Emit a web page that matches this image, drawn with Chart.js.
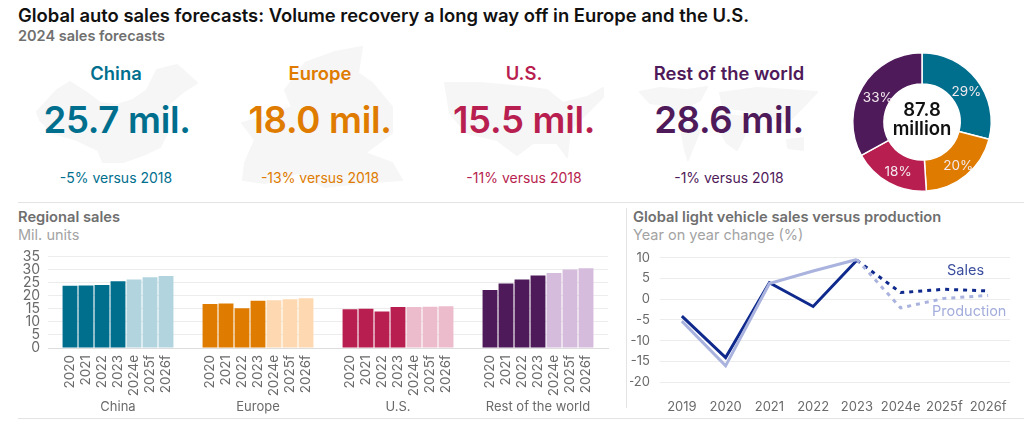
<!DOCTYPE html>
<html>
<head>
<meta charset="utf-8">
<script src="https://cdn.jsdelivr.net/npm/chart.js@4"></script>
<style>
  html, body { margin: 0; background: #fff; }
  body { width: 1024px; height: 428px; position: relative; overflow: hidden; font-family: Inter, sans-serif; }
  .t { position: absolute; white-space: nowrap; }
  .c { transform: translateX(-50%); }
  .rule { position: absolute; height: 1px; background: #e3e3e3; }
  canvas { position: absolute; }
  svg { position: absolute; left: 0; top: 0; }
  .big { font-size: 36.6px; font-weight: 600; top: 98px; letter-spacing: -0.3px; }
  .name { font-size: 18.4px; font-weight: 600; top: 62px; }
  .sub { font-size: 14px; top: 169px; }
  .head { font-size: 14.7px; font-weight: 600; color: #6f6f6f; top: 208px; }
  .unit { font-size: 14.5px; color: #a3a3a3; top: 226px; }
</style>
</head>
<body>
<!-- faint region silhouettes behind the headline numbers -->
<svg width="1024" height="428">
  <g fill="#f6f6f6" stroke="#f6f6f6" stroke-width="2" stroke-linejoin="round">
    <path d="M37 112 L57 90 L70 82 L87 93 L100 103 L117 105 L133 100 L147 90 L157 70 L177 65 L197 83 L183 92 L170 103 L163 117 L167 133 L160 147 L143 155 L123 162 L103 162 L98 150 L77 140 L53 133 L40 120 Z"/>
    <path d="M242 123 L255 140 L245 163 L243 180 L265 183 L298 173 L325 187 L358 183 L402 180 L392 163 L365 153 L392 133 L392 107 L372 83 L358 73 L362 47 L335 52 L305 63 L285 90 L292 107 L265 117 Z"/>
    <path d="M445 83 L480 83 L523 87 L547 90 L563 103 L587 97 L603 88 L603 97 L587 113 L570 130 L567 157 L557 143 L533 143 L517 155 L497 140 L467 133 L450 113 Z"/>
    <path d="M640 92 L660 88 L687 90 L707 87 L700 100 L687 107 L677 120 L665 105 L650 103 Z"/>
    <path d="M680 123 L700 130 L693 147 L688 160 L685 150 Z"/>
    <path d="M720 93 L757 88 L817 92 L803 107 L787 123 L770 117 L743 110 L723 107 Z"/>
    <path d="M717 113 L743 117 L747 130 L737 150 L727 143 L718 127 Z"/>
    <path d="M787 140 L803 138 L803 150 L788 148 Z"/>
  </g>
</svg>

<div class="t" style="left:18px;top:4px;font-size:18.4px;font-weight:600;color:#111">Global auto sales forecasts: Volume recovery a long way off in Europe and the U.S.</div>
<div class="t" style="left:18px;top:27px;font-size:14.5px;font-weight:600;color:#6f6f6f">2024 sales forecasts</div>

<div class="t c name" style="left:116px;color:#006f8e">China</div>
<div class="t c big" style="left:117px;color:#006f8e">25.7 mil.</div>
<div class="t c sub" style="left:116px;color:#006f8e">-5% versus 2018</div>
<div class="t c name" style="left:320px;color:#df7c00">Europe</div>
<div class="t c big" style="left:320px;color:#df7c00">18.0 mil.</div>
<div class="t c sub" style="left:320px;color:#df7c00">-13% versus 2018</div>
<div class="t c name" style="left:524px;color:#b81f50">U.S.</div>
<div class="t c big" style="left:524px;color:#b81f50">15.5 mil.</div>
<div class="t c sub" style="left:524px;color:#b81f50">-11% versus 2018</div>
<div class="t c name" style="left:729px;color:#4f1a5a">Rest of the world</div>
<div class="t c big" style="left:729px;color:#4f1a5a">28.6 mil.</div>
<div class="t c sub" style="left:729px;color:#4f1a5a">-1% versus 2018</div>

<div class="rule" style="left:18px;width:1006px;top:202px"></div>
<div class="rule" style="left:18px;width:1006px;top:418px"></div>
<div style="position:absolute;left:626px;top:208px;width:1px;height:200px;background:#e3e3e3"></div>

<div class="t head" style="left:18px">Regional sales</div>
<div class="t unit" style="left:18px">Mil. units</div>
<div class="t head" style="left:633px">Global light vehicle sales versus production</div>
<div class="t unit" style="left:633px">Year on year change (%)</div>

<canvas id="donut" style="left:842px;top:42px;width:160px;height:160px"></canvas>
<canvas id="bars" style="left:0;top:240px;width:620px;height:180px"></canvas>
<canvas id="lines" style="left:630px;top:240px;width:394px;height:180px"></canvas>

<div class="t" style="left:947px;top:261px;font-size:14.5px;color:#3c4f9e">Sales</div>
<div class="t" style="left:932px;top:302px;font-size:14.5px;color:#a3addb">Production</div>

<script>
const FONT = "Inter, sans-serif";

const regions = ["China", "Europe", "U.S.", "Rest of the world"];
const years = ["2020", "2021", "2022", "2023", "2024e", "2025f", "2026f"];
const china = [23.8, 23.9, 24.1, 25.5, 26.2, 27.0, 27.5];
const europe = [16.8, 17.0, 15.2, 18.1, 18.2, 18.6, 19.0];
const us = [14.8, 15.0, 13.9, 15.7, 15.7, 15.8, 16.0];
const rest = [22.2, 24.6, 26.2, 27.7, 28.7, 30.0, 30.5];
const darkColors = ["#006f8e", "#df7c00", "#b81f50", "#4f1a5a"];
const lightColors = ["#b2d4df", "#fdd8b0", "#edbccc", "#d5bcdc"];

const lineYears = ["2019", "2020", "2021", "2022", "2023", "2024e", "2025f", "2026f"];
const sales = [-4.1, -14.1, 4.0, -1.75, 9.4, 1.6, 2.4, 2.0];
const production = [-5.3, -16.1, 3.8, 6.8, 9.6, -2.1, 0.2, 0.9];

const shareLabels = ["China", "Europe", "U.S.", "Rest of the world"];
const shares = [29, 20, 18, 33];
const totalLines = ["87.8", "million"];

// one dataset per year, so bars group under the region ticks
const rows = [china, europe, us, rest];
const yearSets = years.map((y, i) => ({
    label: y,
    data: rows.map(r => r[i]),
    backgroundColor: i < 4 ? darkColors : lightColors,
    categoryPercentage: 0.8,
    barPercentage: 0.93
}));

// keep the plot area where it is, whatever the tick labels measure
const pinX = height => s => {
    s.height = height;
    s.paddingLeft = 0;
    s.paddingRight = 0;
};

const yearLabels = {
    id: "yearLabels",
    afterDatasetsDraw(chart) {
        const c = chart.ctx;
        const top = chart.scales.y.bottom + 7;
        c.save();
        c.font = "13.5px " + FONT;
        c.fillStyle = "#6a6a6a";
        c.textAlign = "right";
        c.textBaseline = "middle";
        chart.data.datasets.forEach((ds, i) => {
            chart.getDatasetMeta(i).data.forEach(bar => {
                c.save();
                c.translate(bar.x, top);
                c.rotate(-Math.PI / 2);
                c.fillText(ds.label, 0, 0);
                c.restore();
            });
        });
        c.restore();
    }
};

new Chart(document.getElementById("bars"), {
    type: "bar",
    data: { labels: regions, datasets: yearSets },
    plugins: [yearLabels],
    options: {
        responsive: false,
        animation: false,
        layout: { padding: { left: 0, right: 12, top: 16, bottom: 0 } },
        plugins: { legend: { display: false }, tooltip: { enabled: false } },
        scales: {
            x: {
                afterFit: pinX(72),
                grid: { display: false },
                border: { color: "#dddddd" },
                ticks: { color: "#6a6a6a", font: { family: FONT, size: 13 }, padding: 43, maxRotation: 0 }
            },
            y: {
                min: 0,
                max: 35,
                afterFit: s => { s.width = 48; },
                grid: { color: "#ececec", drawTicks: false },
                border: { display: false },
                ticks: { stepSize: 5, autoSkip: false, color: "#6a6a6a", font: { family: FONT, size: 14 }, padding: 8 }
            }
        }
    }
});

const forecastDash = dash => ({
    borderDash: ctx => ctx.p0DataIndex >= 4 ? dash : undefined
});

new Chart(document.getElementById("lines"), {
    type: "line",
    data: {
        labels: lineYears,
        datasets: [
            { label: "Production", data: production, borderColor: "#a9b3de", borderWidth: 3, pointRadius: 0, tension: 0, segment: forecastDash([4, 5]) },
            { label: "Sales", data: sales, borderColor: "#0f2a8c", borderWidth: 3, pointRadius: 0, tension: 0, segment: forecastDash([4, 5]) }
        ]
    },
    options: {
        responsive: false,
        animation: false,
        layout: { padding: { left: 0, right: 14, top: 16, bottom: 0 } },
        plugins: { legend: { display: false }, tooltip: { enabled: false } },
        scales: {
            x: {
                offset: true,
                afterFit: pinX(38),
                grid: { display: false },
                border: { display: false },
                ticks: { color: "#6a6a6a", font: { family: FONT, size: 13 }, padding: 9, maxRotation: 0, autoSkip: false }
            },
            y: {
                min: -20,
                max: 10,
                afterFit: s => { s.width = 30; },
                grid: { color: "#ececec", drawTicks: false },
                border: { display: false },
                ticks: { stepSize: 5, autoSkip: false, color: "#6a6a6a", font: { family: FONT, size: 13 }, padding: 10 }
            }
        }
    }
});

const donutText = {
    id: "donutText",
    afterDatasetsDraw(chart) {
        const c = chart.ctx;
        const arcs = chart.getDatasetMeta(0).data;
        c.save();
        c.textAlign = "center";
        c.textBaseline = "middle";
        c.font = "13.5px " + FONT;
        c.fillStyle = "#f3e9ee";
        arcs.forEach((arc, i) => {
            const p = arc.tooltipPosition();
            c.fillText(shares[i] + "%", p.x + 2, p.y + 3);
        });
        c.fillStyle = "#111";
        c.font = "600 18.5px " + FONT;
        c.fillText(totalLines[0], arcs[0].x, arcs[0].y - 12);
        c.fillText(totalLines[1], arcs[0].x, arcs[0].y + 7);
        c.restore();
    }
};

new Chart(document.getElementById("donut"), {
    type: "doughnut",
    data: {
        labels: shareLabels,
        datasets: [{ data: shares, backgroundColor: darkColors, borderColor: "#fff", borderWidth: 1.5 }]
    },
    plugins: [donutText],
    options: {
        responsive: false,
        animation: false,
        cutout: "55%",
        layout: { padding: 10 },
        plugins: { legend: { display: false }, tooltip: { enabled: false } }
    }
});
</script>
</body>
</html>
